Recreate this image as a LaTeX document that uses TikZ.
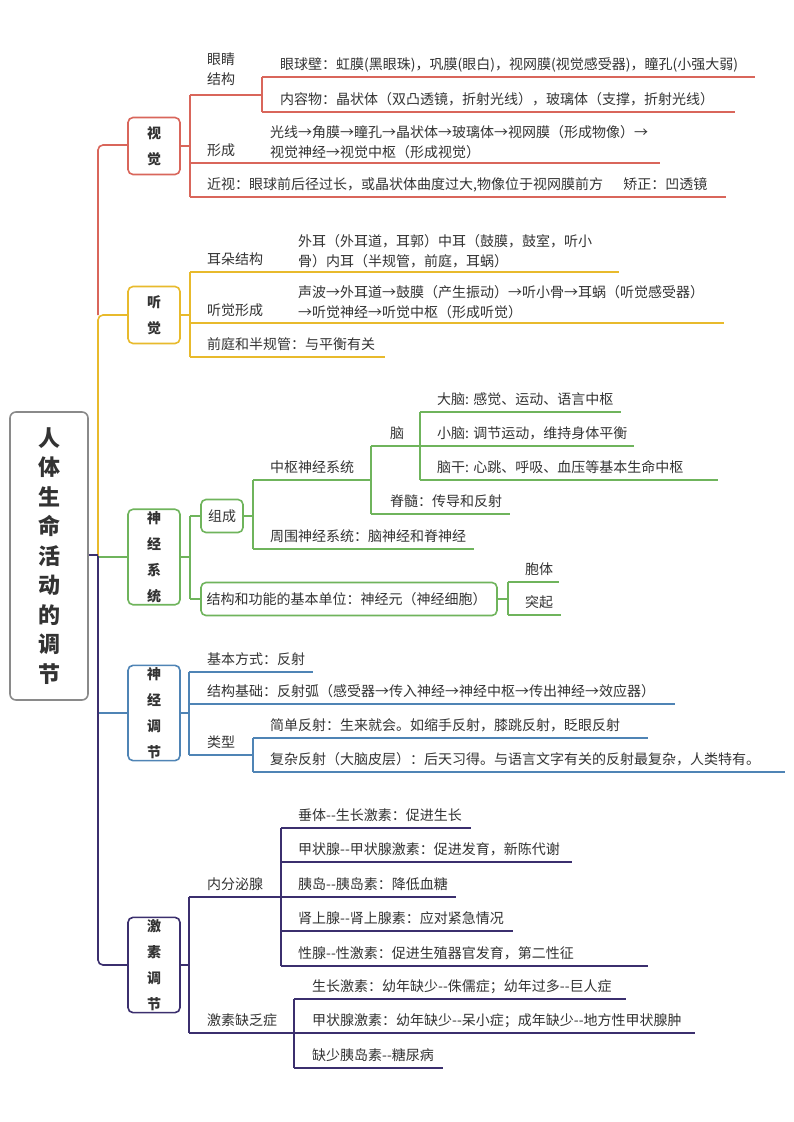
\documentclass[tikz,border=0pt]{standalone}
\usepackage{fontspec}
\setmainfont{Noto Sans CJK SC}
\usetikzlibrary{positioning}
\definecolor{cred}{HTML}{D9665B}
\definecolor{cyel}{HTML}{E8BA2C}
\definecolor{cgrn}{HTML}{6FB45C}
\definecolor{cblu}{HTML}{4F84B5}
\definecolor{cpur}{HTML}{3B2F6E}
\definecolor{cgry}{HTML}{8A8A8A}
\definecolor{ctxt}{HTML}{333333}
\colorlet{cur}{cred}
\tikzset{
 txt/.style={inner sep=0pt,font=\fontsize{14}{20}\selectfont,text=ctxt},
 ln/.style={draw=cur,line width=1.6pt,rounded corners=4pt},
 bbox/.style={draw=cur,line width=1.6pt,rounded corners=5pt,fill=white,minimum width=52pt,align=center,font=\fontsize{14}{26}\selectfont\bfseries,text=ctxt,inner sep=2pt},
}
\newcommand\lfone[6]{\node[txt,anchor=base west] (#1) at (#2,#3-8) {#6};
 \draw[ln] (#4,#3) -- (#5,#3);}
\newcommand\lftwo[6]{\node[txt,anchor=south west,align=left] (#1) at (#2,#3-4) {#6};
 \draw[ln] (#4,#3) -- (#5,#3);}
\newcommand\dd{-{}-}
\begin{document}
\begin{tikzpicture}[x=1pt,y=-1pt]
\useasboundingbox (0,0) rectangle (793,1122);
\fill[white] (0,0) rectangle (793,1122);
% root
\node[draw=cgry,line width=1.6pt,rounded corners=6pt,minimum width=78pt,minimum height=288pt,align=center,font=\fontsize{22}{29.5}\selectfont\bfseries,text=ctxt] (root) at (49,556) {人\\体\\生\\命\\活\\动\\的\\调\\节};
% trunk
\draw[cred,line width=1.6pt,rounded corners=5pt] (128,145) -| (98,315);
\draw[cyel,line width=1.6pt,rounded corners=5pt] (128,315) -- (98,315) -- (98,557);
\draw[cgrn,line width=1.6pt] (128,557) -- (98,557);
\draw[cpur,line width=1.6pt] (root.east|-0,555) -- (98,555);
\draw[cpur,line width=1.6pt,rounded corners=5pt] (98,556) |- (128,965);
\draw[cblu,line width=1.6pt,rounded corners=5pt] (128,713) -- (99,713);
% ===== 视觉
\colorlet{cur}{cred}
\node[bbox,minimum height=57pt] (sj) at (154,146) {视\\觉};
\draw[ln] (sj.east) -- (190,146);
\draw[ln] (190,95) -- (190,197);
\node[txt,anchor=north west,align=left] (yjjg) at (207,53) {眼睛\\结构};
\draw[ln] (190,95) -- (262,95);
\draw[ln] (262,77) -- (262,112);
\lfone{yqb}{280}{77}{262}{755}{眼球壁：虹膜(黑眼珠)，巩膜(眼白)，视网膜(视觉感受器)，瞳孔(小强大弱)}
\lfone{nrw}{280}{112}{262}{735}{内容物：晶状体（双凸透镜，折射光线），玻璃体（支撑，折射光线）}
\lftwo{gx}{270}{163}{190}{660}{光线→角膜→瞳孔→晶状体→玻璃体→视网膜（形成物像）→\\视觉神经→视觉中枢（形成视觉）}
\node[txt,anchor=base west] (xc) at (207,155) {形成};
\lfone{js}{207}{197}{190}{726}{近视：眼球前后径过长，或晶状体曲度过大,物像位于视网膜前方\quad\ \ 矫正：凹透镜}
% ===== 听觉
\colorlet{cur}{cyel}
\node[bbox,minimum height=57pt] (tj) at (154,315) {听\\觉};
\draw[ln] (tj.east) -- (190,315);
\draw[ln] (190,272) -- (190,357);
\lftwo{ed}{298}{272}{190}{619}{外耳（外耳道，耳郭）中耳（鼓膜，鼓室，听小\\骨）内耳（半规管，前庭，耳蜗）}
\node[txt,anchor=base west] (edjg) at (207,264) {耳朵结构};
\lftwo{tjxc}{298}{323}{190}{724}{声波→外耳道→鼓膜（产生振动）→听小骨→耳蜗（听觉感受器）\\→听觉神经→听觉中枢（形成听觉）}
\node[txt,anchor=base west] (tjxcl) at (207,315) {听觉形成};
\lfone{qt}{207}{357}{190}{385}{前庭和半规管：与平衡有关}
% ===== 神经系统
\colorlet{cur}{cgrn}
\node[bbox,minimum height=94pt] (sjxt) at (154,557) {神\\经\\系\\统};
\draw[ln] (sjxt.east) -- (190,557);
\draw[ln] (190,516) -- (190,599);
\node[draw=cur,line width=1.6pt,rounded corners=5pt,txt,minimum width=42pt,minimum height=33pt] (zc) at (222,516) {组成};
\draw[ln] (190,516) -- (zc.west);
\draw[ln] (zc.east) -- (253,516);
\draw[ln] (253,480) -- (253,549);
\lfone{zs}{270}{480}{253}{371}{中枢神经系统}
\draw[ln] (371,446) -- (371,514);
\lfone{nao}{390}{446}{371}{420}{脑}
\draw[ln] (420,412) -- (420,480);
\lfone{dn}{437}{412}{420}{621}{大脑: 感觉、运动、语言中枢}
\lfone{xn}{437}{446}{420}{634}{小脑: 调节运动，维持身体平衡}
\lfone{ng}{437}{480}{420}{718}{脑干: 心跳、呼吸、血压等基本生命中枢}
\lfone{js2}{390}{514}{371}{510}{脊髓：传导和反射}
\lfone{zw}{270}{549}{253}{474}{周围神经系统：脑神经和脊神经}
\node[draw=cur,line width=1.6pt,rounded corners=5pt,txt,minimum width=296pt,minimum height=33pt,text width=285pt] (jg) at (349,599) {结构和功能的基本单位：神经元（神经细胞）};
\draw[ln] (190,599) -- (jg.west);
\draw[ln] (jg.east) -- (508,599);
\draw[ln] (508,582) -- (508,615);
\lfone{bt}{525}{582}{508}{559}{胞体}
\lfone{tq}{525}{615}{508}{561}{突起}
% ===== 神经调节
\colorlet{cur}{cblu}
\node[bbox,minimum height=94pt] (sjtj) at (154,713) {神\\经\\调\\节};
\draw[ln] (sjtj.east) -- (189,713);
\draw[ln] (189,672) -- (189,755);
\lfone{jbfs}{207}{672}{189}{313}{基本方式：反射}
\lfone{jgjc}{207}{704}{189}{675}{结构基础：反射弧（感受器→传入神经→神经中枢→传出神经→效应器）}
\node[txt,anchor=base west] (lx) at (207,747) {类型};
\draw[ln] (189,755) -- (253,755);
\draw[ln] (253,738) -- (253,772);
\lfone{jd}{270}{738}{253}{648}{简单反射：生来就会。如缩手反射，膝跳反射，眨眼反射}
\lfone{fz}{270}{772}{253}{785}{复杂反射（大脑皮层）：后天习得。与语言文字有关的反射最复杂，人类特有。}
% ===== 激素调节
\colorlet{cur}{cpur}
\node[bbox,minimum height=94pt] (jstj) at (154,965) {激\\素\\调\\节};
\draw[ln] (jstj.east) -- (189,965);
\draw[ln] (189,897) -- (189,1033);
\lfone{nfm}{207}{897}{189}{281}{内分泌腺}
\draw[ln] (281,828) -- (281,966);
\lfone{ct}{298}{828}{281}{471}{垂体\dd 生长激素：促进生长}
\lfone{jzx}{298}{862}{281}{572}{甲状腺\dd 甲状腺激素：促进发育，新陈代谢}
\lfone{yd}{298}{897}{281}{456}{胰岛\dd 胰岛素：降低血糖}
\lfone{ssx}{298}{931}{281}{513}{肾上腺\dd 肾上腺素：应对紧急情况}
\lfone{xx}{298}{966}{281}{648}{性腺\dd 性激素：促进生殖器官发育，第二性征}
\lfone{jsqf}{207}{1033}{189}{294}{激素缺乏症}
\draw[ln] (294,999) -- (294,1068);
\lfone{szjs}{312}{999}{294}{626}{生长激素：幼年缺少\dd 侏儒症；幼年过多\dd 巨人症}
\lfone{jzxjs}{312}{1033}{294}{695}{甲状腺激素：幼年缺少\dd 呆小症；成年缺少\dd 地方性甲状腺肿}
\lfone{qs}{312}{1068}{294}{443}{缺少胰岛素\dd 糖尿病}
\end{tikzpicture}
\end{document}
